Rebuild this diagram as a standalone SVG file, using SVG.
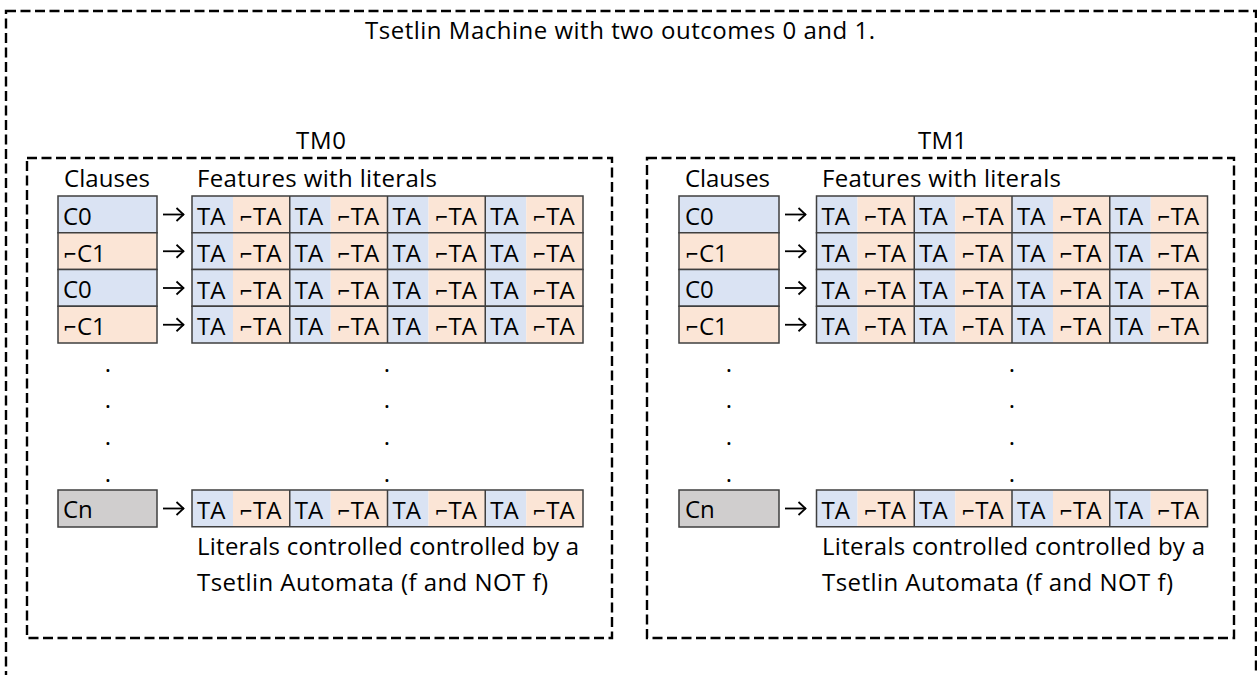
<svg xmlns="http://www.w3.org/2000/svg" xmlns:xlink="http://www.w3.org/1999/xlink" width="1257" height="675" viewBox="0 0 1257 675">
  <style>
    text { font-family: "Open Sans", "DejaVu Sans", sans-serif; font-size: 24px; fill: #000; }
    .neg { font-family: Lato, "DejaVu Sans", sans-serif; }
    .frame { fill: none; stroke: #000; stroke-width: 2.4; stroke-dasharray: 10 4.5; }
    .cell { stroke: #3f3f3f; stroke-width: 1.5; }
    .blue { fill: #dae3f3; }
    .orange { fill: #fbe5d6; }
    .grey { fill: #d0cece; }
    .edge { fill: none; stroke: #3f3f3f; stroke-width: 1.5; }
    .arrow { fill: none; stroke: #000; stroke-width: 1.8; }
    .dot { text-anchor: middle; }
  </style>
  <defs>
    <marker id="chevron" viewBox="0 0 12 16" refX="10.5" refY="8" markerWidth="12" markerHeight="16" markerUnits="userSpaceOnUse" orient="auto">
      <path d="M3,1.5 L10,8 L3,14.5" fill="none" stroke="#000" stroke-width="1.8"/>
    </marker>
    <!-- one row of literals: four features, each a TA / NOT TA pair -->
    <g id="litrow">
      <rect class="blue" x="0" y="0" width="41" height="36.75"/>
      <rect class="orange" x="41" y="0" width="56.75" height="36.75"/>
      <rect class="blue" x="97.75" y="0" width="41" height="36.75"/>
      <rect class="orange" x="138.75" y="0" width="56.75" height="36.75"/>
      <rect class="blue" x="195.5" y="0" width="41" height="36.75"/>
      <rect class="orange" x="236.5" y="0" width="56.75" height="36.75"/>
      <rect class="blue" x="293.25" y="0" width="41" height="36.75"/>
      <rect class="orange" x="334.25" y="0" width="56.75" height="36.75"/>
      <text x="5" y="29">TA</text><text x="47" y="29"><tspan class="neg">⌐</tspan>TA</text>
      <text x="102.75" y="29">TA</text><text x="144.75" y="29"><tspan class="neg">⌐</tspan>TA</text>
      <text x="200.5" y="29">TA</text><text x="242.5" y="29"><tspan class="neg">⌐</tspan>TA</text>
      <text x="298.25" y="29">TA</text><text x="340.25" y="29"><tspan class="neg">⌐</tspan>TA</text>
      <rect class="edge" x="0" y="0" width="391" height="36.75"/>
      <path class="edge" d="M97.75,0 V36.75 M195.5,0 V36.75 M293.25,0 V36.75"/>
    </g>
  </defs>

  <!-- outer frame -->
  <g id="machine">
    <rect class="frame" x="6" y="11" width="1250" height="680"/>
    <text x="365" y="39" textLength="510">Tsetlin Machine with two outcomes 0 and 1.</text>
  </g>

  <!-- TM0 -->
  <g id="tm0">
    <rect class="frame" x="27" y="158" width="585" height="480"/>
    <text x="296" y="149" textLength="50">TM0</text>
    <text x="64" y="187" textLength="86">Clauses</text>
    <text x="197" y="187" textLength="240">Features with literals</text>
    <g id="tm0-clauses">
      <g id="tm0-c0a"><rect class="cell blue" x="58" y="196" width="99" height="36.75"/><text x="63" y="225">C0</text></g>
      <g id="tm0-c1a"><rect class="cell orange" x="58" y="232.75" width="99" height="36.75"/><text x="63" y="262"><tspan class="neg">⌐</tspan>C1</text></g>
      <g id="tm0-c0b"><rect class="cell blue" x="58" y="269.5" width="99" height="36.75"/><text x="63" y="298">C0</text></g>
      <g id="tm0-c1b"><rect class="cell orange" x="58" y="306.25" width="99" height="36.75"/><text x="63" y="335"><tspan class="neg">⌐</tspan>C1</text></g>
      <g id="tm0-cn"><rect class="cell grey" x="58" y="490" width="99" height="37"/><text x="63" y="518">Cn</text></g>
    </g>
    <g id="tm0-literals">
      <use xlink:href="#litrow" x="192" y="196"/>
      <use xlink:href="#litrow" x="192" y="232.75"/>
      <use xlink:href="#litrow" x="192" y="269.5"/>
      <use xlink:href="#litrow" x="192" y="306.25"/>
      <use xlink:href="#litrow" x="192" y="490"/>
    </g>
    <g id="tm0-ellipsis">
      <text class="dot" x="108" y="372">.</text>
      <text class="dot" x="108" y="408">.</text>
      <text class="dot" x="108" y="445">.</text>
      <text class="dot" x="108" y="482">.</text>
      <text class="dot" x="387" y="372">.</text>
      <text class="dot" x="387" y="408">.</text>
      <text class="dot" x="387" y="445">.</text>
      <text class="dot" x="387" y="482">.</text>
    </g>
    <text x="197" y="555" textLength="382">Literals controlled controlled by a</text>
    <text x="197" y="591" textLength="351">Tsetlin Automata (f and NOT f)</text>
  </g>

  <!-- TM1 -->
  <g id="tm1">
    <rect class="frame" x="647" y="158" width="587" height="480"/>
    <text x="918" y="149" textLength="49">TM1</text>
    <text x="685" y="187" textLength="85">Clauses</text>
    <text x="822" y="187" textLength="239">Features with literals</text>
    <g id="tm1-clauses">
      <g id="tm1-c0a"><rect class="cell blue" x="679" y="196" width="100" height="36.75"/><text x="685" y="225">C0</text></g>
      <g id="tm1-c1a"><rect class="cell orange" x="679" y="232.75" width="100" height="36.75"/><text x="685" y="262"><tspan class="neg">⌐</tspan>C1</text></g>
      <g id="tm1-c0b"><rect class="cell blue" x="679" y="269.5" width="100" height="36.75"/><text x="685" y="298">C0</text></g>
      <g id="tm1-c1b"><rect class="cell orange" x="679" y="306.25" width="100" height="36.75"/><text x="685" y="335"><tspan class="neg">⌐</tspan>C1</text></g>
      <g id="tm1-cn"><rect class="cell grey" x="679" y="490" width="100" height="37"/><text x="685" y="518">Cn</text></g>
    </g>
    <g id="tm1-literals">
      <use xlink:href="#litrow" x="816.5" y="196"/>
      <use xlink:href="#litrow" x="816.5" y="232.75"/>
      <use xlink:href="#litrow" x="816.5" y="269.5"/>
      <use xlink:href="#litrow" x="816.5" y="306.25"/>
      <use xlink:href="#litrow" x="816.5" y="490"/>
    </g>
    <g id="tm1-ellipsis">
      <text class="dot" x="729" y="372">.</text>
      <text class="dot" x="729" y="408">.</text>
      <text class="dot" x="729" y="445">.</text>
      <text class="dot" x="729" y="482">.</text>
      <text class="dot" x="1012" y="372">.</text>
      <text class="dot" x="1012" y="408">.</text>
      <text class="dot" x="1012" y="445">.</text>
      <text class="dot" x="1012" y="482">.</text>
    </g>
    <text x="822" y="555" textLength="383">Literals controlled controlled by a</text>
    <text x="822" y="591" textLength="351">Tsetlin Automata (f and NOT f)</text>
  </g>

  <!-- clause to literal connectors -->
  <g id="connectors">
    <path class="arrow" marker-end="url(#chevron)" d="M163,214.5 H184"/>
    <path class="arrow" marker-end="url(#chevron)" d="M163,251.25 H184"/>
    <path class="arrow" marker-end="url(#chevron)" d="M163,288 H184"/>
    <path class="arrow" marker-end="url(#chevron)" d="M163,324.75 H184"/>
    <path class="arrow" marker-end="url(#chevron)" d="M163,508.5 H184"/>
    <path class="arrow" marker-end="url(#chevron)" d="M785,214.5 H806"/>
    <path class="arrow" marker-end="url(#chevron)" d="M785,251.25 H806"/>
    <path class="arrow" marker-end="url(#chevron)" d="M785,288 H806"/>
    <path class="arrow" marker-end="url(#chevron)" d="M785,324.75 H806"/>
    <path class="arrow" marker-end="url(#chevron)" d="M785,508.5 H806"/>
  </g>
</svg>
